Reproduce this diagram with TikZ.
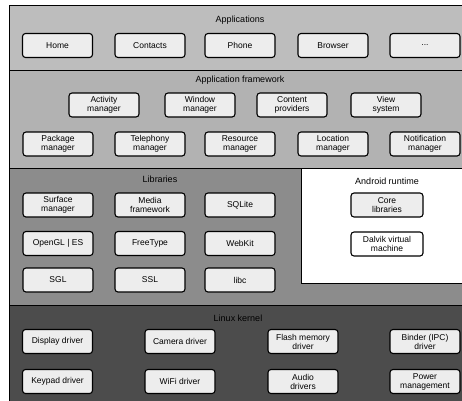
\documentclass[tikz,border=0pt]{standalone}
\usepackage{fontspec}
\setmainfont{Liberation Sans}
\usepackage{tikz}
\definecolor{band-apps}{gray}{0.74}
\definecolor{band-frame}{gray}{0.70}
\definecolor{band-libs}{gray}{0.55}
\definecolor{band-kernel}{gray}{0.30}
\definecolor{box-fill}{gray}{0.93}

\begin{document}
\begin{tikzpicture}[x=1pt, y=-1pt,
    box/.style={draw, line width=1.1pt, rounded corners=3pt, fill=box-fill,
        minimum width=70pt, minimum height=24pt, inner sep=1pt, align=center,
        font=\fontsize{8.5}{9}\selectfont},
    bandtitle/.style={font=\fontsize{9}{10}\selectfont}]
    \useasboundingbox (0,0) rectangle (462,400);
    % layers
    \filldraw[fill=band-apps, line width=1pt] (9,5) rectangle (464,70);
    \filldraw[fill=band-frame, line width=1pt] (9,70) rectangle (464,168);
    \filldraw[fill=band-libs, line width=1pt] (9,168) rectangle (464,305);
    \filldraw[fill=white, line width=1pt] (301,168) rectangle (464,283);
    \filldraw[fill=band-kernel, line width=1pt] (9,305) rectangle (464,401);
    % applications
    \node[bandtitle] (apps) at (240,20) {Applications};
    \node[box] (home) at (57.5,45.5) {Home};
    \node[box] (contacts) at (150,45.5) {Contacts};
    \node[box] (phone) at (240,45.5) {Phone};
    \node[box] (browser) at (333,45.5) {Browser};
    \node[box] (more) at (425,45.5) {...};
    % application framework
    \node[bandtitle] (frame) at (240,80) {Application framework};
    \node[box] (actmgr) at (104,105) {Activity\\manager};
    \node[box] (winmgr) at (200,105) {Window\\manager};
    \node[box] (content) at (292,105) {Content\\providers};
    \node[box] (viewsys) at (386,105) {View\\system};
    \node[box] (pkgmgr) at (58,144) {Package\\manager};
    \node[box] (telmgr) at (150,144) {Telephony\\manager};
    \node[box] (resmgr) at (240,144) {Resource\\manager};
    \node[box] (locmgr) at (333,144) {Location\\manager};
    \node[box] (notmgr) at (425,144) {Notification\\manager};
    % libraries
    \node[bandtitle] (libs) at (160,179) {Libraries};
    \node[box] (surface) at (58,205) {Surface\\manager};
    \node[box] (media) at (150,205) {Media\\framework};
    \node[box] (sqlite) at (240,205) {SQLite};
    \node[box] (opengl) at (58,243.5) {OpenGL | ES};
    \node[box] (freetype) at (150,243.5) {FreeType};
    \node[box] (webkit) at (240,243.5) {WebKit};
    \node[box] (sgl) at (58,280) {SGL};
    \node[box] (ssl) at (150,280) {SSL};
    \node[box] (libc) at (240,280) {libc};
    % android runtime
    \node[bandtitle] (runtime) at (387,181) {Android runtime};
    \node[box, minimum width=72pt] (corelib) at (387,205) {Core\\libraries};
    \node[box, minimum width=72pt, fill=white] (dalvik) at (387,244) {Dalvik virtual\\machine};
    % linux kernel
    \node[bandtitle] (kernel) at (238,318) {Linux kernel};
    \node[box] (display) at (57.5,341.5) {Display driver};
    \node[box] (camera) at (180,341.5) {Camera driver};
    \node[box] (flash) at (303,341.5) {Flash memory\\driver};
    \node[box] (binder) at (425,341.5) {Binder (IPC)\\driver};
    \node[box] (keypad) at (57.5,381.5) {Keypad driver};
    \node[box] (wifi) at (180,381.5) {WiFi driver};
    \node[box] (audio) at (303,381.5) {Audio\\drivers};
    \node[box] (power) at (425,381.5) {Power\\management};
\end{tikzpicture}
\end{document}
